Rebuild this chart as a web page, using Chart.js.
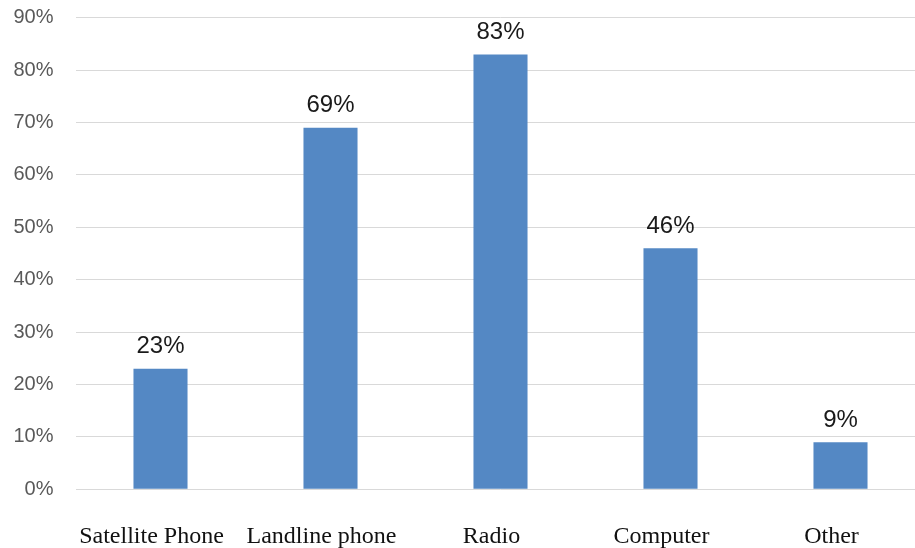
<!DOCTYPE html>
<html>
<head>
<meta charset="utf-8">
<script src="https://cdn.jsdelivr.net/npm/chart.js@4/dist/chart.umd.min.js"></script>
<style>
  html, body { margin: 0; padding: 0; background: #fff; overflow: hidden; }
  canvas { display: block; }
</style>
</head>
<body>
<canvas id="c" width="926" height="548"></canvas>
<script>
// Communication devices used, share of respondents (%)
const categories = ['Satellite Phone', 'Landline phone', 'Radio', 'Computer', 'Other'];
const shares = [23, 69, 83, 46, 9];
const yTicks = [0, 10, 20, 30, 40, 50, 60, 70, 80, 90];

// Writes the percentage above each bar
const valueLabels = {
  id: 'valueLabels',
  afterDatasetsDraw(chart) {
    const ctx = chart.ctx;
    const meta = chart.getDatasetMeta(0);
    ctx.save();
    ctx.font = '24px "Liberation Sans", Arial, sans-serif';
    ctx.fillStyle = '#1a1a1a';
    ctx.textAlign = 'center';
    ctx.textBaseline = 'bottom';
    meta.data.forEach((bar, i) => {
      ctx.fillText(shares[i] + '%', bar.x, bar.y - 10);
    });
    ctx.restore();
  }
};

new Chart(document.getElementById('c'), {
  type: 'bar',
  data: {
    labels: categories,
    datasets: [{
      data: shares,
      backgroundColor: '#5488c4',
      borderWidth: 0,
      barPercentage: 0.318,
      categoryPercentage: 1
    }]
  },
  options: {
    responsive: false,
    animation: false,
    layout: { padding: { top: 17.7, right: 0.5, bottom: 0, left: 0 } },
    plugins: { legend: { display: false }, tooltip: { enabled: false } },
    scales: {
      x: {
        afterFit(scale) {
          scale.height = 58.7;
          scale.paddingLeft = 0;
          scale.paddingRight = 0;
        },
        grid: { display: false },
        border: { display: false },
        ticks: {
          color: '#111',
          font: { family: '"Liberation Serif", "Times New Roman", serif', size: 24 },
          padding: 25,
          labelOffset: -9,
          maxRotation: 0,
          autoSkip: false
        }
      },
      y: {
        min: 0,
        max: 90,
        afterFit(scale) {
          scale.width = 75.5;
          scale.paddingTop = 0;
          scale.paddingBottom = 0;
        },
        afterBuildTicks(scale) { scale.ticks = yTicks.map(v => ({ value: v })); },
        grid: { color: '#d9d9d9', lineWidth: 1, drawTicks: false },
        border: { display: false },
        ticks: {
          color: '#595959',
          padding: 22,
          font: { family: '"Liberation Sans", Arial, sans-serif', size: 20 },
          callback: v => v + '%'
        }
      }
    }
  },
  plugins: [valueLabels]
});
</script>
</body>
</html>
